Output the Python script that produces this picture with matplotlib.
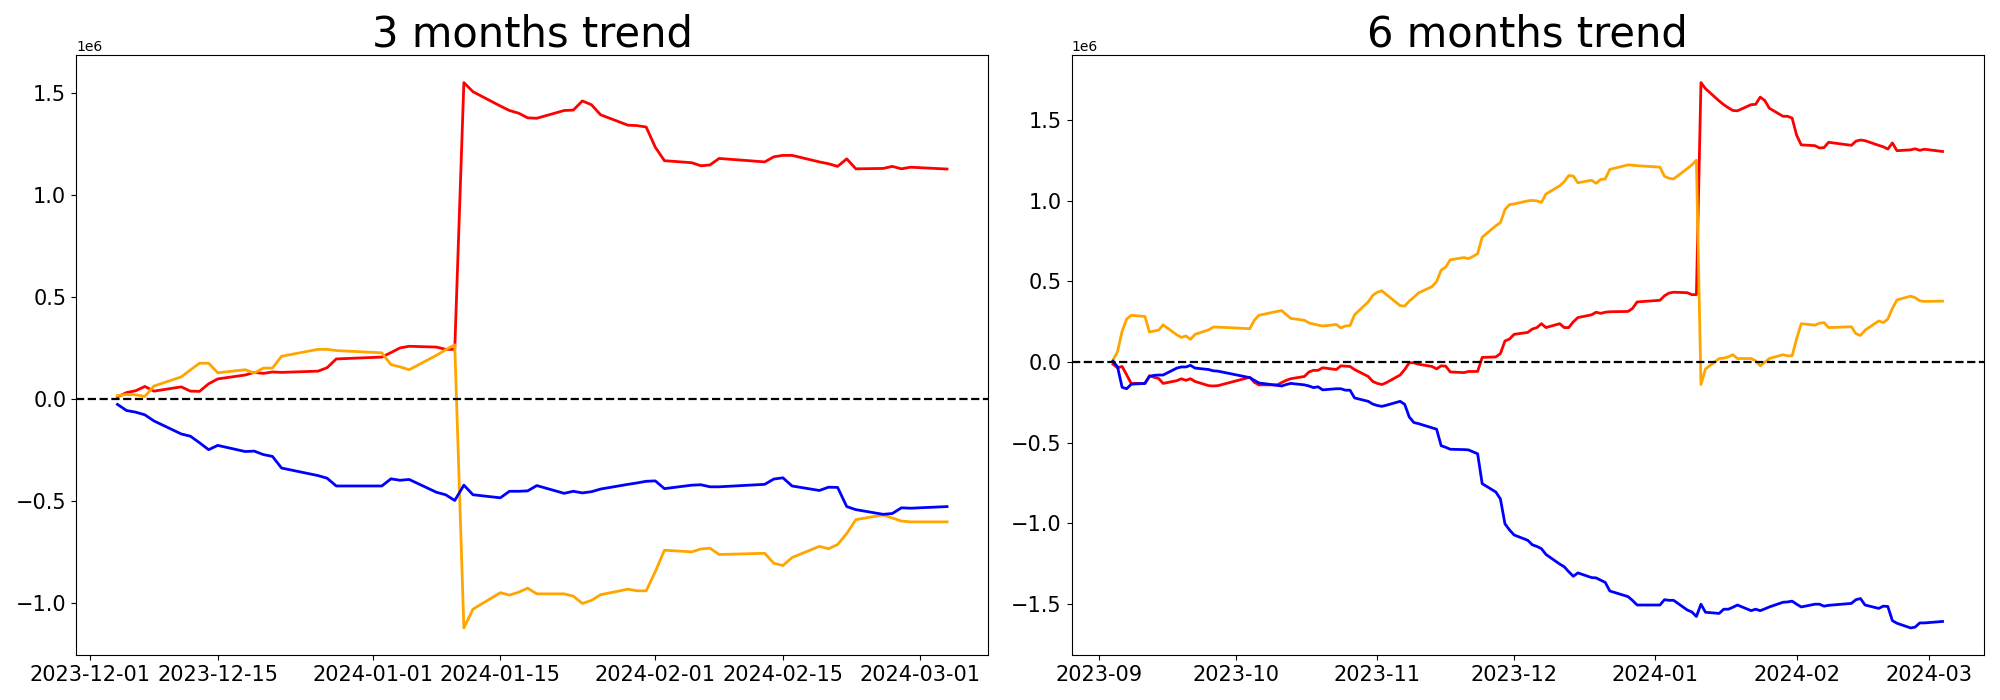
from matplotlib import pyplot as plt
import pandas as pd

# korean market holidays in the range
holidays = ['2023-09-28', '2023-09-29', '2023-10-02', '2023-10-03', '2023-10-09',
            '2023-12-25', '2023-12-29', '2024-01-01', '2024-02-09', '2024-02-12',
            '2024-03-01']

dates_3m = pd.bdate_range('2023-12-04', '2024-03-04', freq='C', holidays=holidays)
dates_6m = pd.bdate_range('2023-09-04', '2024-03-04', freq='C', holidays=holidays)

# 3 months (values in 1e6)
red_3m = [0.011, 0.032, 0.041, 0.062, 0.039, 0.060, 0.039, 0.038, 0.075, 0.099,
          0.118, 0.131, 0.126, 0.133, 0.131, 0.137, 0.154, 0.197,
          0.206, 0.228, 0.251, 0.259, 0.255, 0.244, 0.244, 1.552, 1.507,
          1.437, 1.415, 1.402, 1.379, 1.377, 1.415, 1.417, 1.462, 1.443, 1.394,
          1.343, 1.341, 1.334,
          1.235, 1.169, 1.159, 1.144, 1.148, 1.180, 1.163, 1.188, 1.195, 1.195,
          1.163, 1.154, 1.141, 1.178, 1.129, 1.131, 1.141, 1.129, 1.137,
          1.128]
orange_3m = [0.017, 0.023, 0.021, 0.013, 0.064, 0.109, 0.143, 0.176, 0.176, 0.129,
             0.144, 0.128, 0.152, 0.152, 0.210, 0.244, 0.244, 0.238,
             0.227, 0.169, 0.158, 0.144, 0.215, 0.242, 0.266, -1.122, -1.030,
             -0.949, -0.961, -0.947, -0.927, -0.955, -0.955, -0.966, -1.002, -0.987, -0.959,
             -0.932, -0.940, -0.940,
             -0.846, -0.741, -0.749, -0.735, -0.731, -0.762, -0.756, -0.805, -0.816, -0.777,
             -0.722, -0.734, -0.713, -0.659, -0.591, -0.568, -0.583, -0.598, -0.602,
             -0.602]
blue_3m = [-0.026, -0.056, -0.064, -0.077, -0.107, -0.171, -0.182, -0.214, -0.248, -0.227,
           -0.257, -0.255, -0.272, -0.281, -0.338, -0.375, -0.388, -0.426,
           -0.426, -0.391, -0.398, -0.394, -0.457, -0.469, -0.497, -0.422, -0.469,
           -0.484, -0.452, -0.452, -0.450, -0.424, -0.462, -0.452, -0.460, -0.454, -0.441,
           -0.418, -0.411, -0.403,
           -0.401, -0.439, -0.422, -0.420, -0.430, -0.430, -0.418, -0.392, -0.386, -0.426,
           -0.448, -0.432, -0.433, -0.527, -0.542, -0.565, -0.561, -0.533, -0.535,
           -0.527]

# 6 months (values in 1e6)
red_6m = [-0.014, -0.036, -0.028, -0.080, -0.133, -0.133, -0.085, -0.095, -0.102, -0.133,
          -0.116, -0.104, -0.114, -0.104, -0.121, -0.147, -0.149, -0.147,
          -0.095, -0.126, -0.142, -0.142, -0.128, -0.114, -0.104,
          -0.090, -0.062, -0.052, -0.052, -0.036, -0.047, -0.024, -0.026, -0.028, -0.047,
          -0.090, -0.121,
          -0.133, -0.140, -0.128, -0.081, -0.047, -0.005, -0.005, -0.014,
          -0.028, -0.043, -0.024, -0.026, -0.062, -0.066, -0.059, -0.059, -0.059, 0.028,
          0.031, 0.052, 0.130, 0.142,
          0.171, 0.183, 0.204, 0.213, 0.237, 0.213, 0.237, 0.213, 0.213, 0.249, 0.275,
          0.292, 0.308, 0.301, 0.308, 0.311, 0.313, 0.332, 0.372,
          0.382, 0.410, 0.427, 0.432, 0.429, 0.417, 0.417, 1.731, 1.693,
          1.617, 1.594, 1.575, 1.558, 1.556, 1.594, 1.596, 1.641, 1.620, 1.572,
          1.522, 1.522, 1.511,
          1.404, 1.345, 1.340, 1.326, 1.328, 1.361, 1.342, 1.368, 1.375, 1.371,
          1.342, 1.333, 1.319, 1.357, 1.309, 1.314, 1.321, 1.311, 1.318,
          1.304]
orange_6m = [0.012, 0.064, 0.190, 0.266, 0.289, 0.282, 0.185, 0.192, 0.197, 0.230,
             0.168, 0.152, 0.161, 0.140, 0.171, 0.199, 0.216, 0.216,
             0.206, 0.258, 0.289, 0.313, 0.318, 0.294, 0.270,
             0.258, 0.242, 0.235, 0.228, 0.223, 0.232, 0.211, 0.223, 0.225, 0.292,
             0.372, 0.413,
             0.432, 0.441, 0.417, 0.349, 0.346, 0.377, 0.401, 0.427,
             0.467, 0.498, 0.569, 0.588, 0.633, 0.647, 0.640, 0.654, 0.671, 0.773,
             0.844, 0.863, 0.944, 0.975,
             0.979, 0.998, 1.001, 0.998, 0.989, 1.041, 1.091, 1.117, 1.155, 1.152, 1.110,
             1.126, 1.107, 1.131, 1.134, 1.193, 1.221, 1.219, 1.216,
             1.207, 1.150, 1.138, 1.134, 1.198, 1.221, 1.250, -0.140, -0.043,
             0.021, 0.024, 0.031, 0.045, 0.021, 0.021, 0.007, -0.024, -0.002, 0.021,
             0.045, 0.038, 0.038,
             0.145, 0.237, 0.228, 0.240, 0.244, 0.213, 0.218, 0.175, 0.164, 0.197,
             0.254, 0.244, 0.266, 0.332, 0.384, 0.408, 0.398, 0.379, 0.375,
             0.377]
blue_6m = [0.005, -0.031, -0.157, -0.166, -0.138, -0.133, -0.090, -0.083, -0.081, -0.081,
           -0.038, -0.031, -0.031, -0.021, -0.038, -0.047, -0.055, -0.057,
           -0.097, -0.114, -0.130, -0.145, -0.149, -0.140, -0.133,
           -0.142, -0.149, -0.159, -0.154, -0.173, -0.166, -0.166, -0.175, -0.175, -0.223,
           -0.244, -0.261,
           -0.270, -0.275, -0.268, -0.244, -0.263, -0.341, -0.375, -0.382,
           -0.408, -0.417, -0.519, -0.529, -0.541, -0.543, -0.545, -0.557, -0.569, -0.754,
           -0.806, -0.849, -1.003, -1.041,
           -1.072, -1.105, -1.133, -1.143, -1.157, -1.193, -1.252, -1.269, -1.300, -1.328, -1.307,
           -1.336, -1.338, -1.352, -1.366, -1.419, -1.454, -1.478, -1.506,
           -1.506, -1.473, -1.477, -1.477, -1.537, -1.549, -1.577, -1.501, -1.551,
           -1.558, -1.532, -1.532, -1.520, -1.506, -1.541, -1.532, -1.541, -1.530, -1.518,
           -1.489, -1.487, -1.482,
           -1.501, -1.518, -1.501, -1.501, -1.513, -1.508, -1.496, -1.473, -1.466, -1.506,
           -1.527, -1.513, -1.515, -1.603, -1.619, -1.648, -1.643, -1.617, -1.617,
           -1.608]

fig, axes = plt.subplots(1, 2, figsize=(20, 7), dpi=100)
panels = [
    ('3 months trend', dates_3m, red_3m, orange_3m, blue_3m),
    ('6 months trend', dates_6m, red_6m, orange_6m, blue_6m),
]
for ax, (title, dates, red, orange, blue) in zip(axes, panels):
    ax.plot(dates, [v * 1e6 for v in red], color='red', linewidth=2)
    ax.plot(dates, [v * 1e6 for v in orange], color='orange', linewidth=2)
    ax.plot(dates, [v * 1e6 for v in blue], color='blue', linewidth=2)
    ax.axhline(0, color='black', linestyle='--', linewidth=1.6)
    ax.set_title(title, fontsize=30)
    ax.tick_params(labelsize=15)

plt.subplots_adjust(left=0.038, right=0.992, bottom=0.064, top=0.921, wspace=0.091)
plt.savefig('out.png')
